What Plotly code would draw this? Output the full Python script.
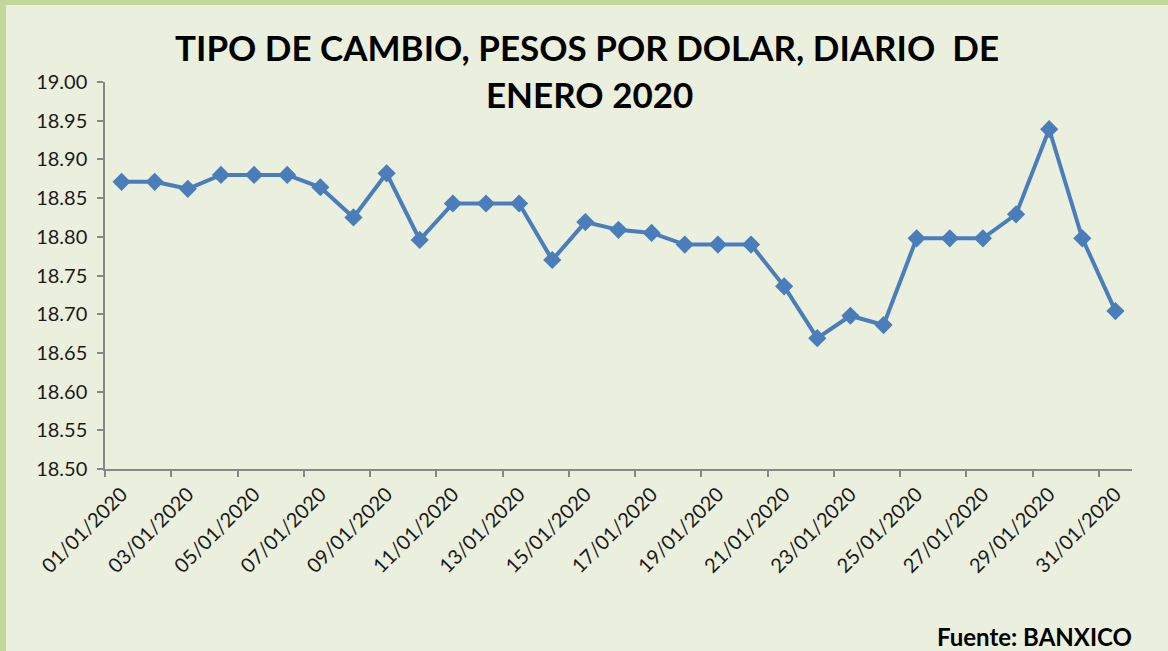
import plotly.graph_objects as go
from datetime import date

dates = [date(2020, 1, d) for d in range(1, 32)]
rates = [18.871, 18.871, 18.862, 18.880, 18.880, 18.880, 18.864, 18.825, 18.882, 18.796,
         18.843, 18.843, 18.843, 18.770, 18.819, 18.809, 18.805, 18.790, 18.790, 18.790,
         18.736, 18.669, 18.698, 18.686, 18.798, 18.798, 18.798, 18.829, 18.939, 18.798,
         18.704]
label_dates = dates[::2]
label_text = [d.strftime("%d/%m/%Y") for d in label_dates]
y_ticks = [18.50 + 0.05 * i for i in range(11)]

title_line1 = "TIPO DE CAMBIO, PESOS POR DOLAR, DIARIO  DE"
title_line2 = "ENERO 2020"
source = "Fuente: BANXICO"

FONT = "Lato"
BG = "#EBF0DE"
AXIS = "#888888"
BORDER = "#C4D79B"

fig = go.Figure()
fig.add_trace(go.Scatter(
    x=dates, y=rates, mode="lines+markers",
    line=dict(color="#4A7EBB", width=4),
    marker=dict(symbol="diamond", size=14, color="#4A7EBB"),
    hoverinfo="x+y",
))

L, R, T, B = 105, 1132, 82, 469
px_x = lambda px: (px - L) / (R - L)
px_y = lambda py: (B - py) / (B - T)

fig.update_layout(
    width=1168, height=651,
    margin=dict(l=L, r=1168 - R, t=T, b=651 - B),
    paper_bgcolor=BG, plot_bgcolor=BG,
    showlegend=False,
    font=dict(family=FONT, color="#1a1a1a"),
    xaxis=dict(
        range=["2019-12-31 12:00", "2020-01-31 12:00"],
        tickmode="array", tickvals=label_dates, ticktext=label_text,
        tickangle=-45, ticks="", showgrid=False, zeroline=False,
        ticklabelstandoff=4,
        showline=True, linecolor=AXIS, linewidth=1.5,
        tickfont=dict(family=FONT, size=20, color="#1a1a1a"),
        minor=dict(tick0="2019-12-31 12:00", dtick=2 * 86400000, ticks="outside",
                   ticklen=6, tickcolor=AXIS, tickwidth=1.5, showgrid=False),
    ),
    yaxis=dict(
        range=[18.50, 19.00], tickmode="array", tickvals=y_ticks,
        tickformat=".2f", ticks="outside", ticklen=6, tickcolor=AXIS, tickwidth=1.5,
        ticklabelstandoff=6,
        showgrid=False, zeroline=False, showline=True, linecolor=AXIS, linewidth=1.5,
        tickfont=dict(family=FONT, size=20, color="#1a1a1a"),
    ),
    annotations=[
        dict(text="<b>" + title_line1 + "</b>", xref="paper", yref="paper",
             x=px_x(587), y=px_y(47), xanchor="center", yanchor="middle", showarrow=False,
             font=dict(family=FONT, size=35, color="#000000")),
        dict(text="<b>" + title_line2 + "</b>", xref="paper", yref="paper",
             x=px_x(589), y=px_y(94), xanchor="center", yanchor="middle", showarrow=False,
             font=dict(family=FONT, size=35, color="#000000")),
        dict(text="<b>" + source + "</b>", xref="paper", yref="paper",
             x=px_x(1134), y=px_y(636), xanchor="right", yanchor="middle", showarrow=False,
             font=dict(family=FONT, size=24, color="#000000")),
    ],
    shapes=[
        dict(type="rect", xref="paper", yref="paper", x0=px_x(0), x1=px_x(1168),
             y0=px_y(5), y1=px_y(-2), line=dict(width=0), fillcolor=BORDER),
        dict(type="rect", xref="paper", yref="paper", x0=px_x(-2), x1=px_x(6),
             y0=px_y(653), y1=px_y(0), line=dict(width=0), fillcolor=BORDER),
    ],
)

fig.write_html("out.html", config={"displayModeBar": False},
               post_script="document.body.style.margin='0';document.body.style.overflow='hidden';")
